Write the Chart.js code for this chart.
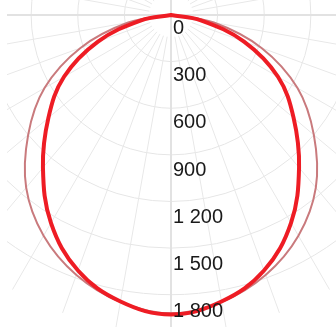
<!DOCTYPE html>
<html><head><meta charset="utf-8">
<script src="https://cdn.jsdelivr.net/npm/chart.js@4/dist/chart.umd.min.js"></script>
<style>
html,body{margin:0;padding:0;background:#fff;overflow:hidden;width:336px;height:327px;}
#wrap{position:absolute;left:7px;top:0;width:329px;height:327px;overflow:hidden;}
#c{position:absolute;left:-153px;top:-302px;}
</style></head><body>
<div id="wrap"><canvas id="c" width="635" height="635"></canvas></div>
<script>
// angles in degrees, 0 = straight down (nadir)
const angles = [0,10,20,30,40,50,60,70,80,90,100,110,120,130,140,150,160,170,180,190,200,210,220,230,240,250,260,270,280,290,300,310,320,330,340,350];
// measured luminous intensity (red curve)
const measured = [1927,1872,1750,1545,1282,1030,795,500,195,0,0,0,0,0,0,0,0,0,0,0,0,0,0,0,0,0,0,0,195,500,795,1030,1282,1545,1750,1872];
// reference (pink curve)
const reference = [1920,1875,1780,1640,1450,1200,940,620,280,0,0,0,0,0,0,0,0,0,0,0,0,0,0,0,0,0,0,0,280,620,940,1200,1450,1640,1780,1875];
const tickValues = [0,300,600,900,1200,1500,1800];
const tickLabels = ['0','300','600','900','1 200','1 500','1 800'];
const scaleMax = 2040;

const axisIdx = [0,9,18,27];

const tickLabelPlugin = {
  id: 'tickLabelPlugin',
  afterDatasetsDraw(chart) {
    const s = chart.scales.r;
    const ctx = chart.ctx;
    ctx.save();
    ctx.font = '20px "Liberation Sans", Arial, sans-serif';
    ctx.fillStyle = '#1a1a1a';
    ctx.textAlign = 'left';
    ctx.textBaseline = 'middle';
    tickValues.forEach((v, i) => {
      const d = s.getDistanceFromCenterForValue(v);
      ctx.fillText(tickLabels[i], s.xCenter + 2, s.yCenter + d * 1.012 + 13.5);
    });
    ctx.restore();
  }
};

new Chart(document.getElementById('c'), {
  type: 'radar',
  data: {
    labels: angles.map(a => a + '°'),
    datasets: [
      { data: measured, borderColor: '#ee1c24', borderWidth: 4, fill: false, pointRadius: 0, tension: 0.38 },
      { data: reference, borderColor: '#c97a7d', borderWidth: 2, fill: false, pointRadius: 0, tension: 0.36 }
    ]
  },
  options: {
    responsive: false,
    devicePixelRatio: 1,
    animation: false,
    layout: { padding: 0 },
    plugins: { legend: { display: false }, tooltip: { enabled: false } },
    scales: {
      r: {
        min: 0,
        max: scaleMax,
        startAngle: 180,
        afterBuildTicks: (sc) => { sc.ticks = tickValues.map(v => ({ value: v })); },
        ticks: { display: false },
        pointLabels: { display: false },
        grid: { circular: true, color: '#e6e6e6', lineWidth: 1 },
        angleLines: {
          color: (c) => axisIdx.includes(c.index) ? '#e2e2e2' : '#e8e8e8',
          lineWidth: (c) => axisIdx.includes(c.index) ? 2 : 1,
          borderDash: (c) => axisIdx.includes(c.index) ? [] : [0, 22, 400]
        }
      }
    }
  },
  plugins: [tickLabelPlugin]
});
</script>
</body></html>
